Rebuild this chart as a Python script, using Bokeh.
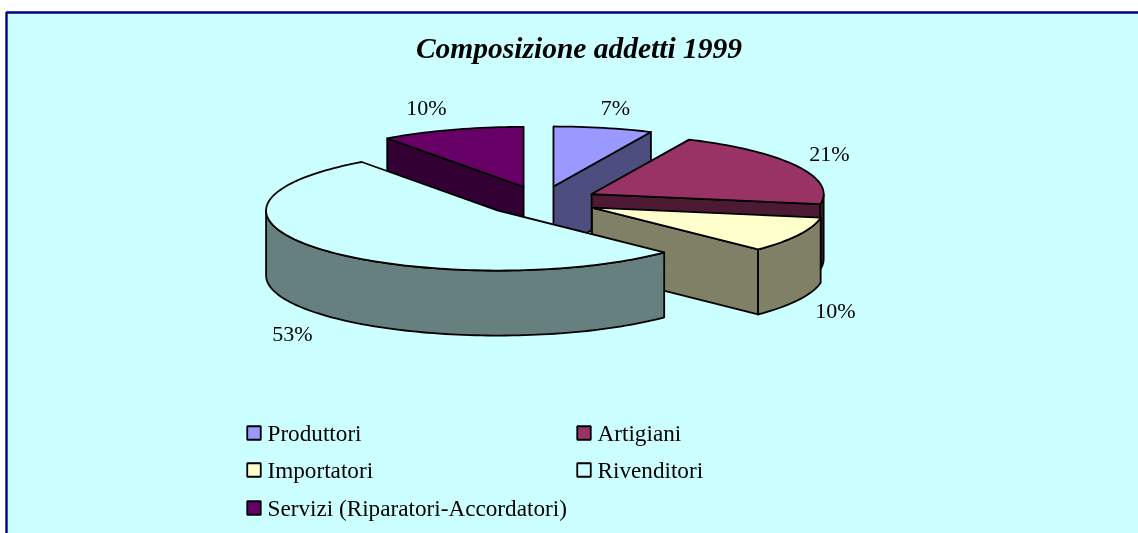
import math
from bokeh.plotting import figure
from bokeh.models import Range1d
from bokeh.core.properties import value
from bokeh.embed import file_html
from bokeh.resources import INLINE

# ---- data ----
title_text = "Composizione addetti 1999"
categories = ["Produttori", "Artigiani", "Importatori", "Rivenditori", "Servizi (Riparatori-Accordatori)"]
values = [6.9, 20.8, 9.6, 52.7, 10.0]
pct_labels = ["7%", "21%", "10%", "53%", "10%"]
top_colors = ["#9999ff", "#993366", "#ffffcc", "#ccffff", "#660066"]
side_colors = ["#4d4d80", "#4d1a33", "#808066", "#668080", "#330033"]
paint_order = [4, 0, 1, 2, 3]

# ---- layout (window pixels) ----
W, H = 1138, 533
CX, CY, RX, RY, EXPLODE, DEPTH = 540.7, 200.4, 232, 60, 57, 65
FONT = "Liberation Serif"
TEXT_SHIFT = 8
label_pos = [(615, 115), (829, 161), (835, 318), (292, 341), (426, 115)]
legend_pos = [(253.5, 440), (583.5, 440), (253.5, 477), (583.5, 477), (253.5, 515)]

p = figure(width=W, height=H, x_range=Range1d(0, W), y_range=Range1d(H, 0),
           output_backend="svg", toolbar_location=None, min_border=0,
           outline_line_color=None, background_fill_color="white",
           border_fill_color="white")
p.styles = {"position": "fixed", "left": "0px", "top": "0px"}
p.axis.visible = False
p.grid.visible = False

# chart area with its border
p.quad(left=[6], right=[W + 20], top=[12], bottom=[H + 20],
       fill_color="#ccffff", line_color="#000080", line_width=2.4)


def rim(ax, ay, t0, t1):
    n = max(2, int(abs(t1 - t0) / 1.5) + 1)
    ts = [math.radians(t0 + (t1 - t0) * i / (n - 1)) for i in range(n)]
    return [ax + RX * math.sin(t) for t in ts], [ay - RY * math.cos(t) for t in ts]


total = sum(values)
starts, c = [], 0
for v in values:
    starts.append(c)
    c += v

for i in paint_order:
    t0 = starts[i] / total * 360
    t1 = (starts[i] + values[i]) / total * 360
    mid = math.radians((t0 + t1) / 2)
    ax = CX + EXPLODE * math.sin(mid)
    ay = CY - EXPLODE * RY / RX * math.cos(mid)
    xs, ys = [], []

    # cut faces turned towards the viewer
    if math.sin(math.radians(t0)) < 0:
        ex, ey = rim(ax, ay, t0, t0)
        xs.append([ax, ex[0], ex[0], ax])
        ys.append([ay, ey[0], ey[0] + DEPTH, ay + DEPTH])
    if math.sin(math.radians(t1)) > 0:
        ex, ey = rim(ax, ay, t1, t1)
        xs.append([ax, ex[0], ex[0], ax])
        ys.append([ay, ey[0], ey[0] + DEPTH, ay + DEPTH])
    # outer wall, front half only
    a, b = max(t0, 90), min(t1, 270)
    if a < b:
        ex, ey = rim(ax, ay, a, b)
        xs.append(ex + ex[::-1])
        ys.append(ey + [y + DEPTH for y in ey[::-1]])
    p.patches(xs, ys, fill_color=side_colors[i], line_color="black",
              line_width=1.8, line_join="round")

    # top face
    ex, ey = rim(ax, ay, t0, t1)
    p.patch([ax] + ex, [ay] + ey, fill_color=top_colors[i], line_color="black",
            line_width=1.8, line_join="round")

# title
p.text(x=[578.5], y=[55 - TEXT_SHIFT], text=[title_text], text_font=value(FONT), text_font_size="29.5px",
       text_font_style="bold italic", text_color="black", text_align="center",
       text_baseline="alphabetic")

# percentage labels
p.text(x=[q[0] for q in label_pos], y=[q[1] - TEXT_SHIFT for q in label_pos], text=pct_labels,
       text_font=value(FONT), text_font_size="22px", text_color="black",
       text_align="center", text_baseline="alphabetic")

# legend
p.rect(x=[q[0] for q in legend_pos], y=[q[1] - 7.5 for q in legend_pos], width=13.5, height=13.5,
       fill_color=top_colors, line_color="black", line_width=1.8)
p.text(x=[q[0] + 13.5 for q in legend_pos], y=[q[1] - TEXT_SHIFT for q in legend_pos], text=categories,
       text_font=value(FONT), text_font_size="23.2px", text_color="black",
       text_align="left", text_baseline="alphabetic")

open("out.html", "w").write(file_html(p, INLINE))
